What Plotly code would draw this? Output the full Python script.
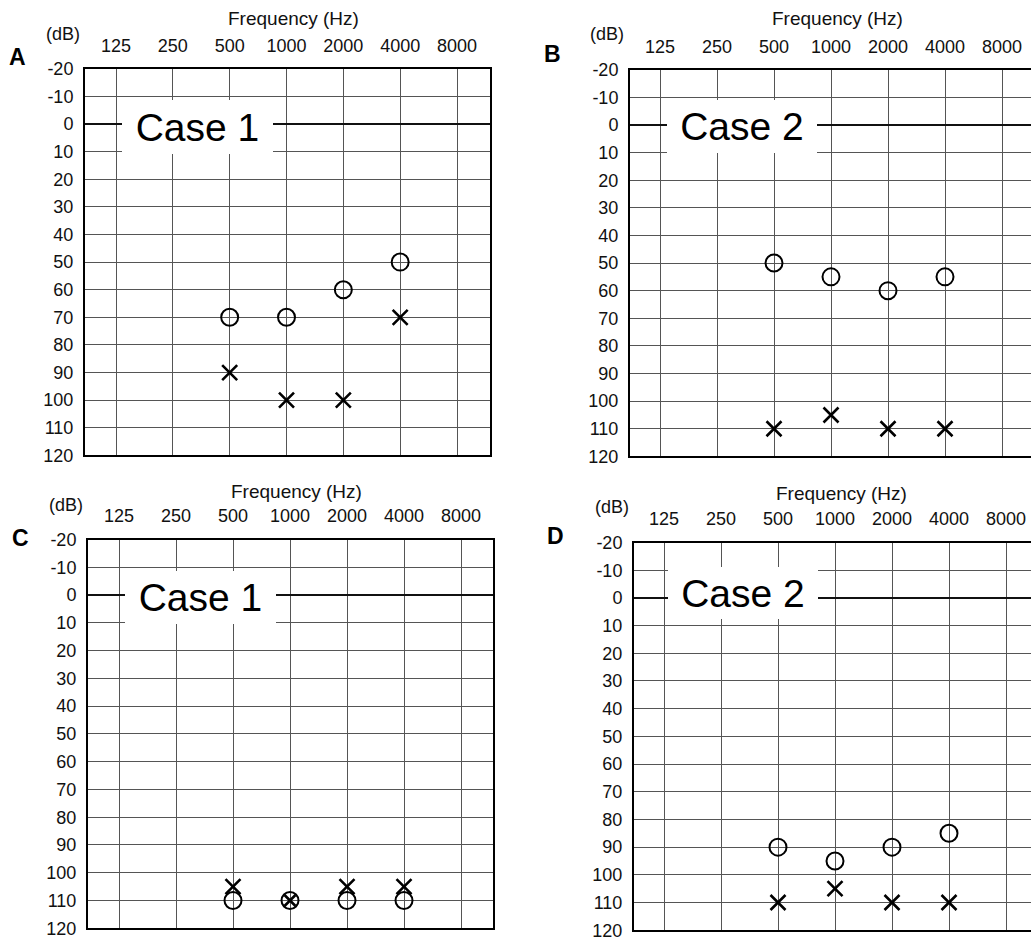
import plotly.graph_objects as go

W, H = 1031, 950

# ---------------- data ----------------
freq_labels = ["125", "250", "500", "1000", "2000", "4000", "8000"]
db_ticks = list(range(-20, 121, 10))
test_freqs = ["500", "1000", "2000", "4000"]

a_circle = [70, 70, 60, 50]
a_cross = [90, 100, 100, 70]
b_circle = [50, 55, 60, 55]
b_cross = [110, 105, 110, 110]
c_circle = [110, 110, 110, 110]
c_cross = [105, 110, 105, 105]
d_circle = [90, 95, 90, 85]
d_cross = [110, 105, 110, 110]

panel_letters = ["A", "B", "C", "D"]
case_labels = ["Case 1", "Case 2", "Case 1", "Case 2"]
x_title = "Frequency (Hz)"
y_unit = "(dB)"

# ---------------- layout geometry (pixels) ----------------
panels = [
    dict(l=85, r=490, t=60, b=455, v0=116, v6=457, frame_r=True,
         letter=(17, 55), xt=(293, 16), yu=(63, 32), box=(197.5, 120, 151, 54)),
    dict(l=630, r=1031, t=61, b=456, v0=660, v6=1002, frame_r=False,
         letter=(552, 52), xt=(837, 16), yu=(607, 32), box=(742, 119, 150, 53)),
    dict(l=88, r=493, t=541, b=938, v0=119, v6=461, frame_r=True,
         letter=(20, 546), xt=(296, 499), yu=(66, 513), box=(200.5, 600, 151, 53)),
    dict(l=634, r=1031, t=544, b=940, v0=664, v6=1006, frame_r=False,
         letter=(555, 544), xt=(841, 501), yu=(612, 515), box=(743, 596, 150, 52)),
]
series = [(a_circle, a_cross), (b_circle, b_cross), (c_circle, c_cross), (d_circle, d_cross)]

FONT = "Liberation Sans, Arial, Helvetica, sans-serif"
GRID = "#555555"
TXT_SHIFT = 7  # correction for text-only annotations

def px(x, y):
    return x / W, 1 - y / H

fig = go.Figure()
annotations = []
for i, (p, (circ, crs)) in enumerate(zip(panels, series)):
    n = "" if i == 0 else str(i + 1)
    xa, ya = "x" + n, "y" + n
    step = (p["v6"] - p["v0"]) / 6.0
    xr = [(p["l"] - p["v0"]) / step, (p["r"] - p["v0"]) / step]
    fig.add_trace(go.Scatter(
        x=test_freqs, y=circ, mode="markers", xaxis=xa, yaxis=ya,
        marker=dict(symbol="circle-open", size=17, color="black",
                    line=dict(width=2, color="black")),
        showlegend=False, hoverinfo="x+y"))
    cross_sizes = [11 if cv == ov else 15 for cv, ov in zip(crs, circ)]
    fig.add_trace(go.Scatter(
        x=test_freqs, y=crs, mode="markers", xaxis=xa, yaxis=ya,
        marker=dict(symbol="x-thin", size=cross_sizes, color="black", opacity=1,
                    line=dict(width=2.6, color="#000000")),
        showlegend=False, hoverinfo="x+y"))
    fig.layout["xaxis" + n] = dict(
        domain=[p["l"] / W, p["r"] / W], anchor=ya, side="top",
        type="category", categoryorder="array", categoryarray=freq_labels,
        tickvals=freq_labels, ticktext=freq_labels, range=xr,
        showgrid=True, gridcolor=GRID, gridwidth=1,
        showline=True, mirror=True, linecolor="black", linewidth=2,
        ticks="", ticklabelstandoff=8,
        tickfont=dict(family=FONT, size=18, color="#111"),
        fixedrange=True, zeroline=False)
    fig.layout["yaxis" + n] = dict(
        domain=[1 - p["b"] / H, 1 - p["t"] / H], anchor=xa,
        range=[120, -20], tickvals=db_ticks, ticktext=[str(v) for v in db_ticks],
        showgrid=True, gridcolor=GRID, gridwidth=1,
        zeroline=True, zerolinecolor="#111", zerolinewidth=2.2,
        showline=True, mirror=p["frame_r"], linecolor="black", linewidth=2,
        ticks="", ticklabelstandoff=6,
        tickfont=dict(family=FONT, size=18, color="#111"),
        fixedrange=True)
    # texts
    lx, ly = px(p["letter"][0], p["letter"][1] - TXT_SHIFT)
    annotations.append(dict(text="<b>%s</b>" % panel_letters[i], x=lx, y=ly,
                            xref="paper", yref="paper", showarrow=False,
                            xanchor="center", yanchor="middle",
                            font=dict(family=FONT, size=23, color="black")))
    tx, ty = px(p["xt"][0], p["xt"][1] - TXT_SHIFT)
    annotations.append(dict(text=x_title, x=tx, y=ty, xref="paper", yref="paper",
                            showarrow=False, xanchor="center", yanchor="middle",
                            font=dict(family=FONT, size=19, color="#111")))
    ux, uy = px(p["yu"][0], p["yu"][1] - TXT_SHIFT)
    annotations.append(dict(text=y_unit, x=ux, y=uy, xref="paper", yref="paper",
                            showarrow=False, xanchor="center", yanchor="middle",
                            font=dict(family=FONT, size=18, color="#111")))
    bx, by, bw, bh = p["box"]
    cx, cy = px(bx, by)
    annotations.append(dict(text=case_labels[i], x=cx, y=cy, xref="paper", yref="paper",
                            showarrow=False, xanchor="center", yanchor="middle",
                            width=bw, height=bh, borderpad=0, borderwidth=0,
                            bgcolor="white", align="center", valign="middle",
                            font=dict(family=FONT, size=39, color="black")))

fig.update_layout(
    width=W, height=H, margin=dict(l=0, r=0, t=0, b=0),
    paper_bgcolor="white", plot_bgcolor="white",
    annotations=annotations, showlegend=False)

fig.write_html("out.html")
